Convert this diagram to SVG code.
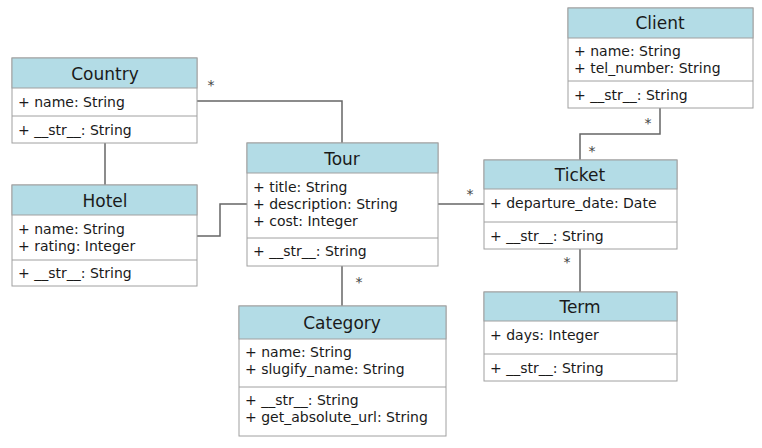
<svg xmlns="http://www.w3.org/2000/svg" width="762" height="448" viewBox="0 0 762 448">
<style>
.box{fill:#ffffff;stroke:#a0a0a0;stroke-width:1}
.hdr{fill:#b3dce6;stroke:#a0a0a0;stroke-width:1}
.sep{stroke:#a0a0a0;stroke-width:1}
.t{font-family:"DejaVu Sans",sans-serif;font-size:17px;fill:#1a1a1a;text-anchor:middle}
.a{font-family:"DejaVu Sans",sans-serif;font-size:14px;fill:#1a1a1a}
.m{font-family:"DejaVu Sans",sans-serif;font-size:14px;fill:#444444}
.c{fill:none;stroke:#666;stroke-width:1.5}
</style>
<rect width="762" height="448" fill="#ffffff"/>
<g id="connectors">
<polyline class="c" points="197,101 342,101 342,143"/>
<line class="c" x1="105" y1="143" x2="105" y2="185"/>
<polyline class="c" points="197,236 220,236 220,204 247,204"/>
<line class="c" x1="342" y1="266" x2="342" y2="306"/>
<line class="c" x1="438" y1="204" x2="484" y2="204"/>
<polyline class="c" points="660,108 660,134 580,134 580,160"/>
<line class="c" x1="580" y1="249" x2="580" y2="292"/>
<text class="m" x="211" y="90" text-anchor="middle">*</text>
<text class="m" x="359" y="287" text-anchor="middle">*</text>
<text class="m" x="470" y="199" text-anchor="middle">*</text>
<text class="m" x="648" y="128" text-anchor="middle">*</text>
<text class="m" x="592" y="156" text-anchor="middle">*</text>
<text class="m" x="567" y="267" text-anchor="middle">*</text>
</g>
<g id="Country">
<rect class="box" x="12" y="58" width="185" height="85"/>
<rect class="hdr" x="12" y="58" width="185" height="30"/>
<line class="sep" x1="12" y1="116" x2="197" y2="116"/>
<text class="t" x="105" y="80">Country</text>
<text class="a" x="18" y="107">+ name: String</text>
<text class="a" x="18" y="135">+ __str__: String</text>
</g>
<g id="Hotel">
<rect class="box" x="12" y="185" width="185" height="101"/>
<rect class="hdr" x="12" y="185" width="185" height="30"/>
<line class="sep" x1="12" y1="260" x2="197" y2="260"/>
<text class="t" x="105" y="207">Hotel</text>
<text class="a" x="18" y="234">+ name: String</text>
<text class="a" x="18" y="251">+ rating: Integer</text>
<text class="a" x="18" y="278">+ __str__: String</text>
</g>
<g id="Tour">
<rect class="box" x="247" y="143" width="191" height="123"/>
<rect class="hdr" x="247" y="143" width="191" height="30"/>
<line class="sep" x1="247" y1="238" x2="438" y2="238"/>
<text class="t" x="342" y="165">Tour</text>
<text class="a" x="253" y="192">+ title: String</text>
<text class="a" x="253" y="209">+ description: String</text>
<text class="a" x="253" y="226">+ cost: Integer</text>
<text class="a" x="253" y="256">+ __str__: String</text>
</g>
<g id="Category">
<rect class="box" x="239" y="306" width="207" height="130"/>
<rect class="hdr" x="239" y="306" width="207" height="33"/>
<line class="sep" x1="239" y1="387" x2="446" y2="387"/>
<text class="t" x="342" y="329">Category</text>
<text class="a" x="245" y="357">+ name: String</text>
<text class="a" x="245" y="374">+ slugify_name: String</text>
<text class="a" x="245" y="405">+ __str__: String</text>
<text class="a" x="245" y="422">+ get_absolute_url: String</text>
</g>
<g id="Client">
<rect class="box" x="568" y="8" width="185" height="100"/>
<rect class="hdr" x="568" y="8" width="185" height="30"/>
<line class="sep" x1="568" y1="81" x2="753" y2="81"/>
<text class="t" x="660" y="29">Client</text>
<text class="a" x="574" y="56">+ name: String</text>
<text class="a" x="574" y="73">+ tel_number: String</text>
<text class="a" x="574" y="100">+ __str__: String</text>
</g>
<g id="Ticket">
<rect class="box" x="484" y="160" width="193" height="89"/>
<rect class="hdr" x="484" y="160" width="193" height="29"/>
<line class="sep" x1="484" y1="222" x2="677" y2="222"/>
<text class="t" x="580" y="181">Ticket</text>
<text class="a" x="490" y="208">+ departure_date: Date</text>
<text class="a" x="490" y="241">+ __str__: String</text>
</g>
<g id="Term">
<rect class="box" x="484" y="292" width="193" height="89"/>
<rect class="hdr" x="484" y="292" width="193" height="29"/>
<line class="sep" x1="484" y1="354" x2="677" y2="354"/>
<text class="t" x="580" y="313">Term</text>
<text class="a" x="490" y="340">+ days: Integer</text>
<text class="a" x="490" y="373">+ __str__: String</text>
</g>
</svg>
